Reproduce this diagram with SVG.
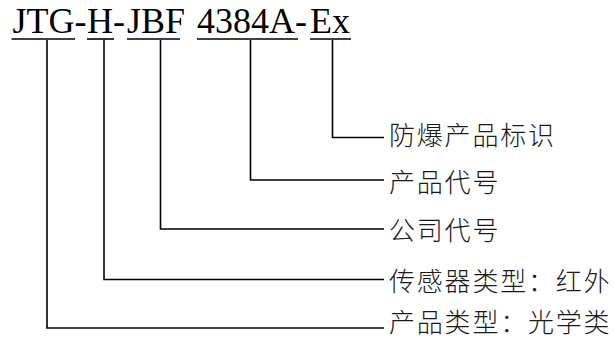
<svg xmlns="http://www.w3.org/2000/svg" width="614" height="339" viewBox="0 0 614 339">
<style>
.code{font-family:"Liberation Serif","Times New Roman",serif;font-size:36px;fill:#000}
.lbl{font-family:"Noto Sans CJK SC","Noto Sans",sans-serif;font-size:26px;font-weight:300;letter-spacing:1.8px;fill:#1a1a1a}
.ul{stroke:#000;stroke-width:1.6;fill:none}
.con{stroke:#000;stroke-width:1.6;fill:none}
</style>
<rect width="614" height="339" fill="#fff"/>
<g id="code">
<text class="code" y="33"><tspan x="12.5">JTG-</tspan><tspan x="87">H-</tspan><tspan x="127">JBF</tspan><tspan x="197">4384A-</tspan><tspan x="310">Ex</tspan></text>
<line class="ul" x1="11.5" y1="39" x2="75" y2="39"/>
<line class="ul" x1="87" y1="39" x2="114" y2="39"/>
<line class="ul" x1="127" y1="39" x2="180" y2="39"/>
<line class="ul" x1="197" y1="39" x2="298" y2="39"/>
<line class="ul" x1="310" y1="39" x2="351" y2="39"/>
</g>
<g id="connectors">
<polyline class="con" points="332.5,40 332.5,137.5 384,137.5"/>
<polyline class="con" points="250.5,40 250.5,180 384,180"/>
<polyline class="con" points="160.5,40 160.5,229 384,229"/>
<polyline class="con" points="104,40 104,279.5 384,279.5"/>
<polyline class="con" points="47,40 47,328 384,328"/>
</g>
<g id="n-ex"><text class="lbl" x="389" y="145">防爆产品标识</text></g>
<g id="n-4384a"><text class="lbl" x="389" y="192">产品代号</text></g>
<g id="n-jbf"><text class="lbl" x="389" y="240">公司代号</text></g>
<g id="n-h"><text class="lbl" x="389" y="291">传感器类型：红外</text></g>
<g id="n-jtg"><text class="lbl" x="389" y="331.5">产品类型：光学类</text></g>
</svg>
